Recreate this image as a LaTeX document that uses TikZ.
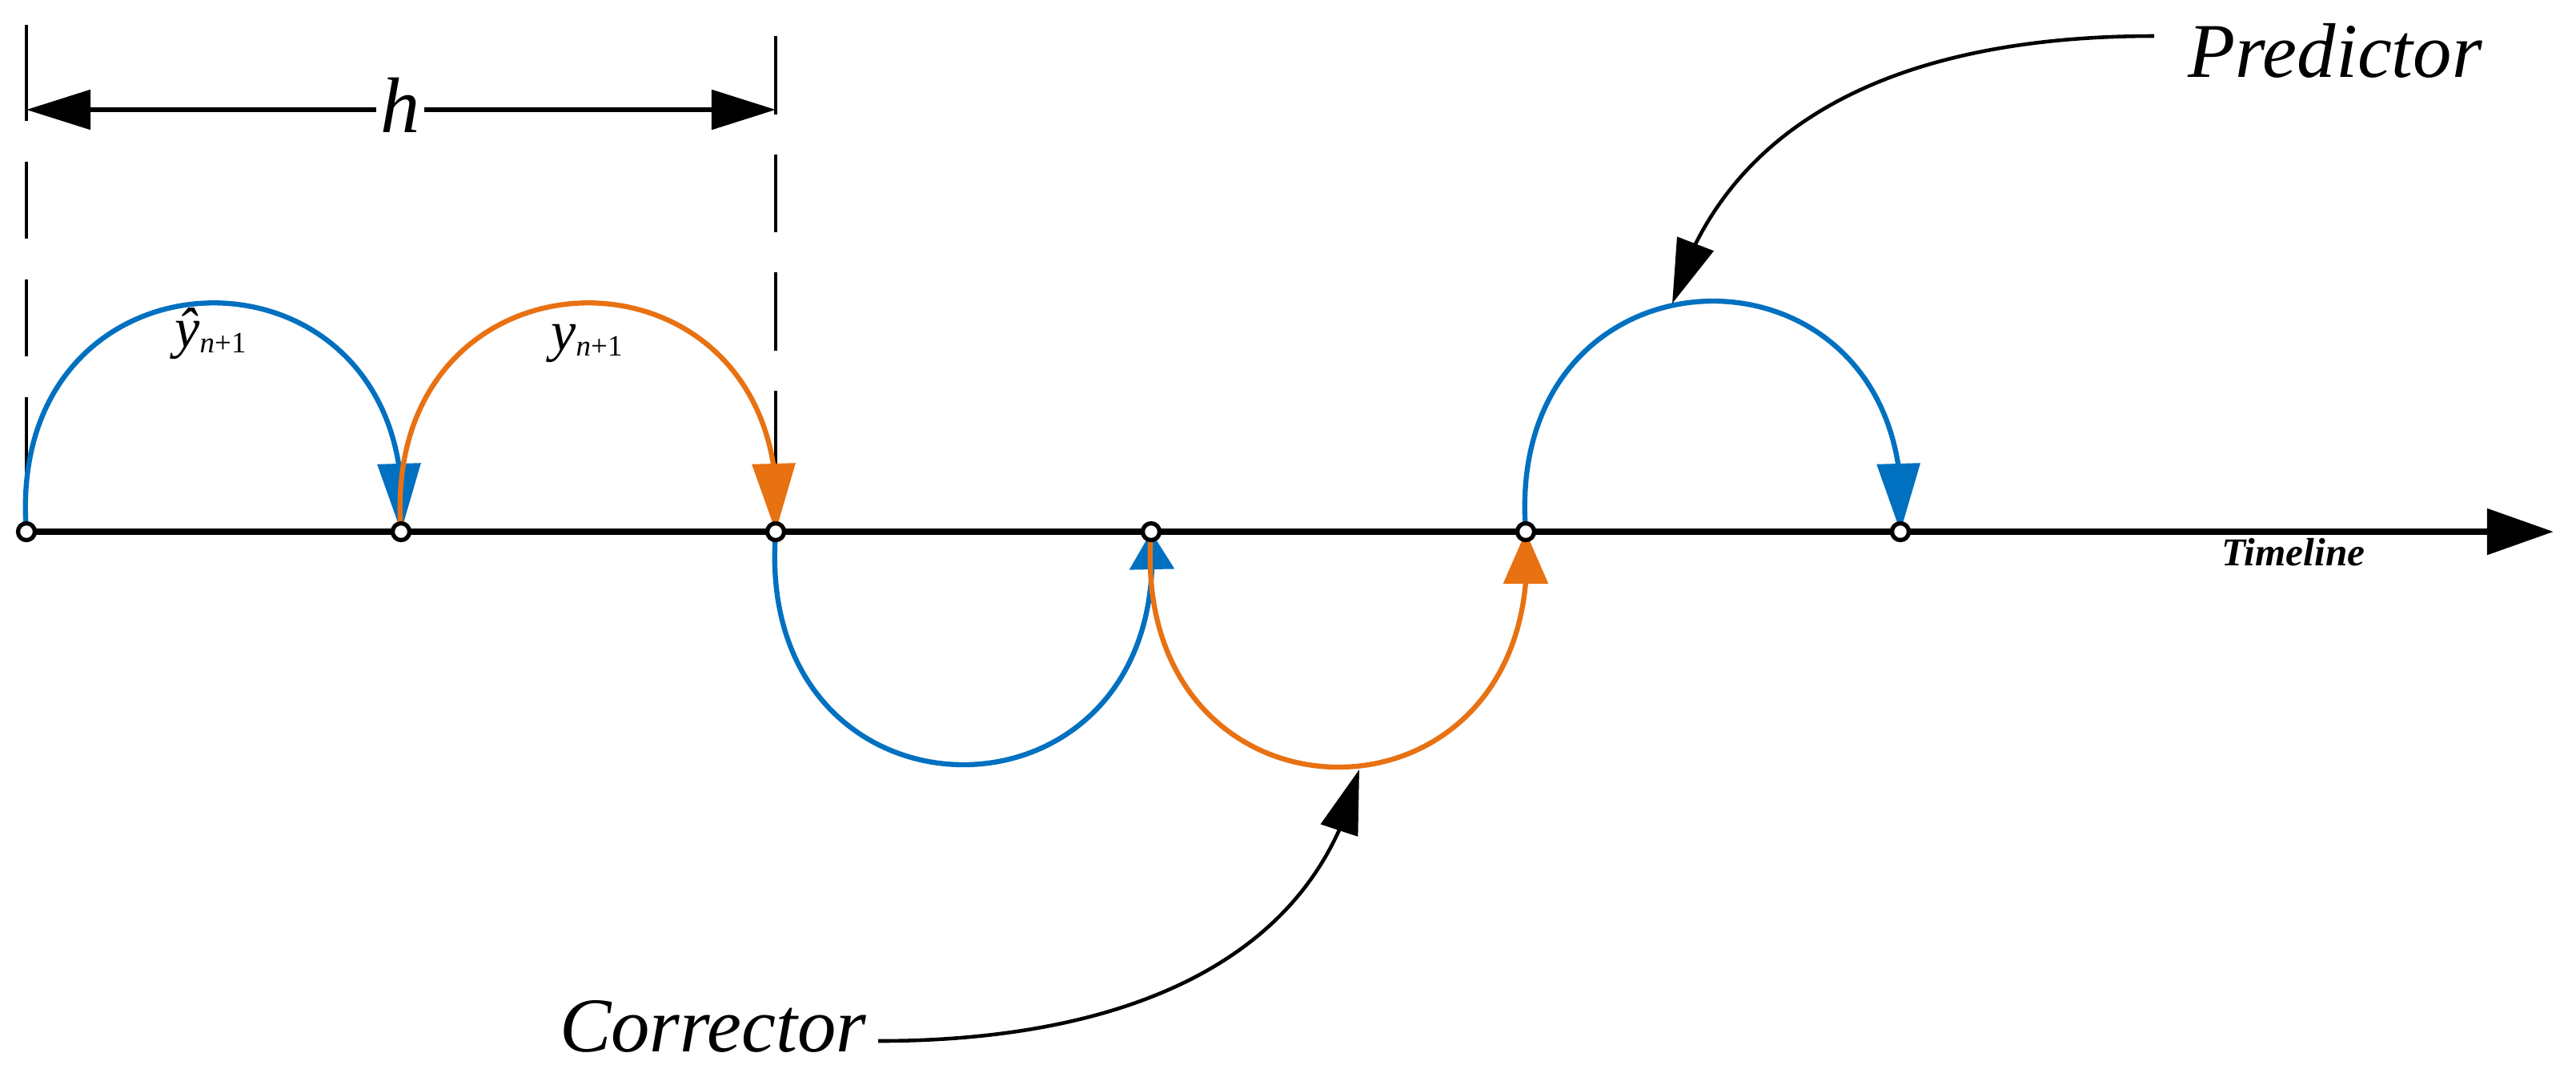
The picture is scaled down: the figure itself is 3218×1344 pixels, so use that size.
\documentclass[tikz,border=0pt]{standalone}
\usepackage{fontspec}
\setmainfont{Liberation Serif}
\usepackage{graphicx}
\usetikzlibrary{arrows.meta,bending,backgrounds}
\definecolor{cblue}{RGB}{0,112,192}
\definecolor{corange}{RGB}{232,113,18}
\newcommand{\lbsub}[1]{\raisebox{-0.45ex}{\fontsize{10.5}{11}\selectfont #1}}
\begin{document}
\begin{tikzpicture}[x=0.01cm,y=-0.01cm,
  ptnode/.style={circle,draw=black,fill=white,line width=1.5pt,minimum size=0.21cm,inner sep=0pt},
  arcblue/.style={draw=cblue,line width=1.8pt},
  arcorange/.style={draw=corange,line width=1.8pt},
  uptip/.style={-{Triangle[length=0.85cm,width=0.53cm,flex]}},
  lowbluetip/.style={-{Triangle[length=0.47cm,width=0.55cm,flex]}},
  loworangetip/.style={-{Triangle[length=0.65cm,width=0.55cm,flex]}},
  dashline/.style={draw=black,line width=1.3pt},
  hline/.style={draw=black,line width=1.5pt,{Triangle[length=0.8cm,width=0.49cm]}-{Triangle[length=0.8cm,width=0.49cm]}},
  timeline/.style={draw=black,line width=2.4pt,-{Triangle[length=0.83cm,width=0.56cm]}},
  pointer/.style={draw=black,line width=1.3pt,-{Triangle[length=0.8cm,width=0.48cm,flex]}},
  bigtext/.style={font=\fontsize{27.5}{28}\selectfont\itshape,inner sep=0pt}
]
\useasboundingbox (0,0) rectangle (3218,1344);

\coordinate (dl) at (33,31);
\coordinate (dr) at (969,45);
\coordinate (ha) at (33,137);
\coordinate (hb) at (969,137);
\coordinate (tend) at (3190,664);
\coordinate (ctip) at (1698,961);
\coordinate (ptip) at (2089,379);

\node[ptnode] (p1) at (33,664) {};
\node[ptnode] (p2) at (501,664) {};
\node[ptnode] (p3) at (969,664) {};
\node[ptnode] (p4) at (1438,664) {};
\node[ptnode] (p5) at (1906,664) {};
\node[ptnode] (p6) at (2374,664) {};

\node[font=\fontsize{28}{28}\selectfont\itshape,fill=white,inner sep=1.5pt,anchor=base] (hlab) at (500,165) {h};
\node[anchor=base,inner sep=0pt] (lab1) at (263,433) {{\fontsize{20}{20}\selectfont\itshape ŷ}\lbsub{\itshape n\upshape+1}};
\node[anchor=base,inner sep=0pt] (lab2) at (733,437) {{\fontsize{20}{20}\selectfont\itshape y}\lbsub{\itshape n\upshape+1}};
\node[anchor=base,font=\fontsize{14}{14}\selectfont\bfseries\itshape,inner sep=0pt] (tllab) at (2865,706) {Timeline};
\node[bigtext,anchor=base east] (corr) at (1083,1313) {Corrector};
\node[bigtext,anchor=base west] (pred) at (2733,96) {Predictor};

\begin{scope}[on background layer]
  \draw[dashline,dash pattern=on 1.2cm off 0.51cm on 0.96cm off 0.51cm on 0.96cm off 0.51cm on 0.98cm off 0.51cm on 0.5cm] (dl) -- (p1.center);
  \draw[dashline,dash pattern=on 0.98cm off 0.5cm on 0.97cm off 0.5cm on 0.98cm off 0.5cm on 0.97cm off 0.5cm on 0.5cm] (dr) -- (p3.center);
  \draw[hline] (ha) -- (hb);
  \draw[timeline] (p1.center) -- (tend);
  \draw[arcblue,uptip] (p1.center) .. controls +(-30,-381) and +(30,-381) .. (p2.center);
  \draw[arcorange,uptip] (p2.center) .. controls +(-30,-381) and +(30,-381) .. (p3.center);
  \draw[arcblue,lowbluetip] (p3.center) .. controls +(-30,388) and +(30,388) .. (p4.center);
  \draw[arcorange,loworangetip] (p4.center) .. controls +(-30,392) and +(30,392) .. (p5.center);
  \draw[arcblue,uptip] (p5.center) .. controls +(-30,-384) and +(30,-384) .. (p6.center);
\end{scope}

\draw[pointer] ([shift={(14,-13)}]corr.base east) .. controls +(300,0) and +(-55,244) .. (ctip);
\draw[pointer] ([shift={(-42,-51)}]pred.base west) .. controls +(-300,0) and +(70,-240) .. (ptip);
\end{tikzpicture}
\end{document}
